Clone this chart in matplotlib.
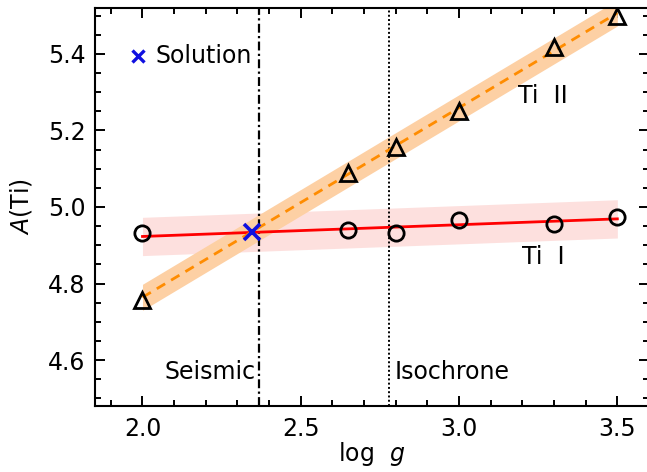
import matplotlib
matplotlib.use("Agg")
import matplotlib.pyplot as plt
import numpy as np
from matplotlib.ticker import MultipleLocator

# Data
logg = [2.0, 2.65, 2.8, 3.0, 3.3, 3.5]
ti1 = [4.932, 4.940, 4.932, 4.966, 4.955, 4.975]
ti2 = [4.757, 5.089, 5.158, 5.250, 5.418, 5.499]
fit_x = [2.0, 3.5]
ti1_fit = [4.923, 4.969]
ti2_fit = [4.764, 5.507]
ti1_err = 0.05
ti2_err = 0.034
solution = (2.345, 4.934)
seismic = 2.368
isochrone = 2.78

plt.rcParams['font.family'] = ['DejaVu Sans']
FS = 17
fig = plt.figure(figsize=(6.47, 4.72), dpi=100)
W, H = 647, 472
ax = fig.add_axes([95 / W, 1 - 406 / H, 554 / W, 398 / H])

fx = np.array(fit_x)
f1 = np.array(ti1_fit)
f2 = np.array(ti2_fit)
ax.fill_between(fx, f1 - ti1_err, f1 + ti1_err, color='#fde0de', lw=0, zorder=1)
ax.fill_between(fx, f2 - ti2_err, f2 + ti2_err, color='#fdd0a4', lw=0, zorder=2)
ax.plot(fx, f1, color='red', lw=2.0, zorder=3)
ax.plot(fx, f2, color='darkorange', lw=2.0, ls=(0, (3.5, 2.5)), zorder=3)

ax.axvline(seismic, color='black', lw=1.6, ls=(0, (4, 1.5, 1, 1.5)), zorder=2)
ax.axvline(isochrone, color='black', lw=1.4, ls=(0, (1, 1.2)), zorder=2)

ax.plot(logg, ti1, 'o', ms=11, mfc='none', mec='black', mew=2.0, zorder=4)
ax.plot(logg, ti2, '^', ms=12, mfc='none', mec='black', mew=2.0, zorder=4)
ax.plot([solution[0]], [solution[1]], 'x', ms=11, mew=2.6, color='#1010e0', zorder=5)

# legend-like label
ax.plot([1.985], [5.395], 'x', ms=8, mew=2.4, color='#1010e0')
ax.text(2.04, 5.395, 'Solution', fontsize=FS, va='center', ha='left')

ax.text(seismic - 0.012, 4.569, 'Seismic', fontsize=FS, va='center', ha='right')
ax.text(isochrone + 0.018, 4.569, 'Isochrone', fontsize=FS, va='center', ha='left')
ax.text(3.265, 5.29, 'Ti  II', fontsize=FS, va='center', ha='center')
ax.text(3.198, 4.87, 'Ti  I', fontsize=FS, va='center', ha='left')

ax.set_xlim(1.85, 3.6)
ax.set_ylim(4.48, 5.52)
ax.xaxis.set_major_locator(MultipleLocator(0.5))
ax.xaxis.set_minor_locator(MultipleLocator(0.1))
ax.yaxis.set_major_locator(MultipleLocator(0.2))
ax.yaxis.set_minor_locator(MultipleLocator(0.05))
ax.xaxis.set_major_formatter(matplotlib.ticker.FormatStrFormatter('%.1f'))
ax.yaxis.set_major_formatter(matplotlib.ticker.FormatStrFormatter('%.1f'))
ax.tick_params(which='both', direction='in', top=True, right=True, width=1.4)
ax.tick_params(which='major', length=7.5, labelsize=FS)
ax.tick_params(which='minor', length=4)
ax.tick_params(axis='x', which='major', pad=8)
ax.tick_params(axis='y', which='major', pad=7)
for s in ax.spines.values():
    s.set_linewidth(1.5)

ax.set_xlabel(r'log  $g$', fontsize=FS, va='baseline')
ax.xaxis.set_label_coords(0.5, (406 - 461) / 398)
ax.set_ylabel(r'$A$(Ti)', fontsize=FS, labelpad=10)

fig.savefig('out.png', dpi=100)
